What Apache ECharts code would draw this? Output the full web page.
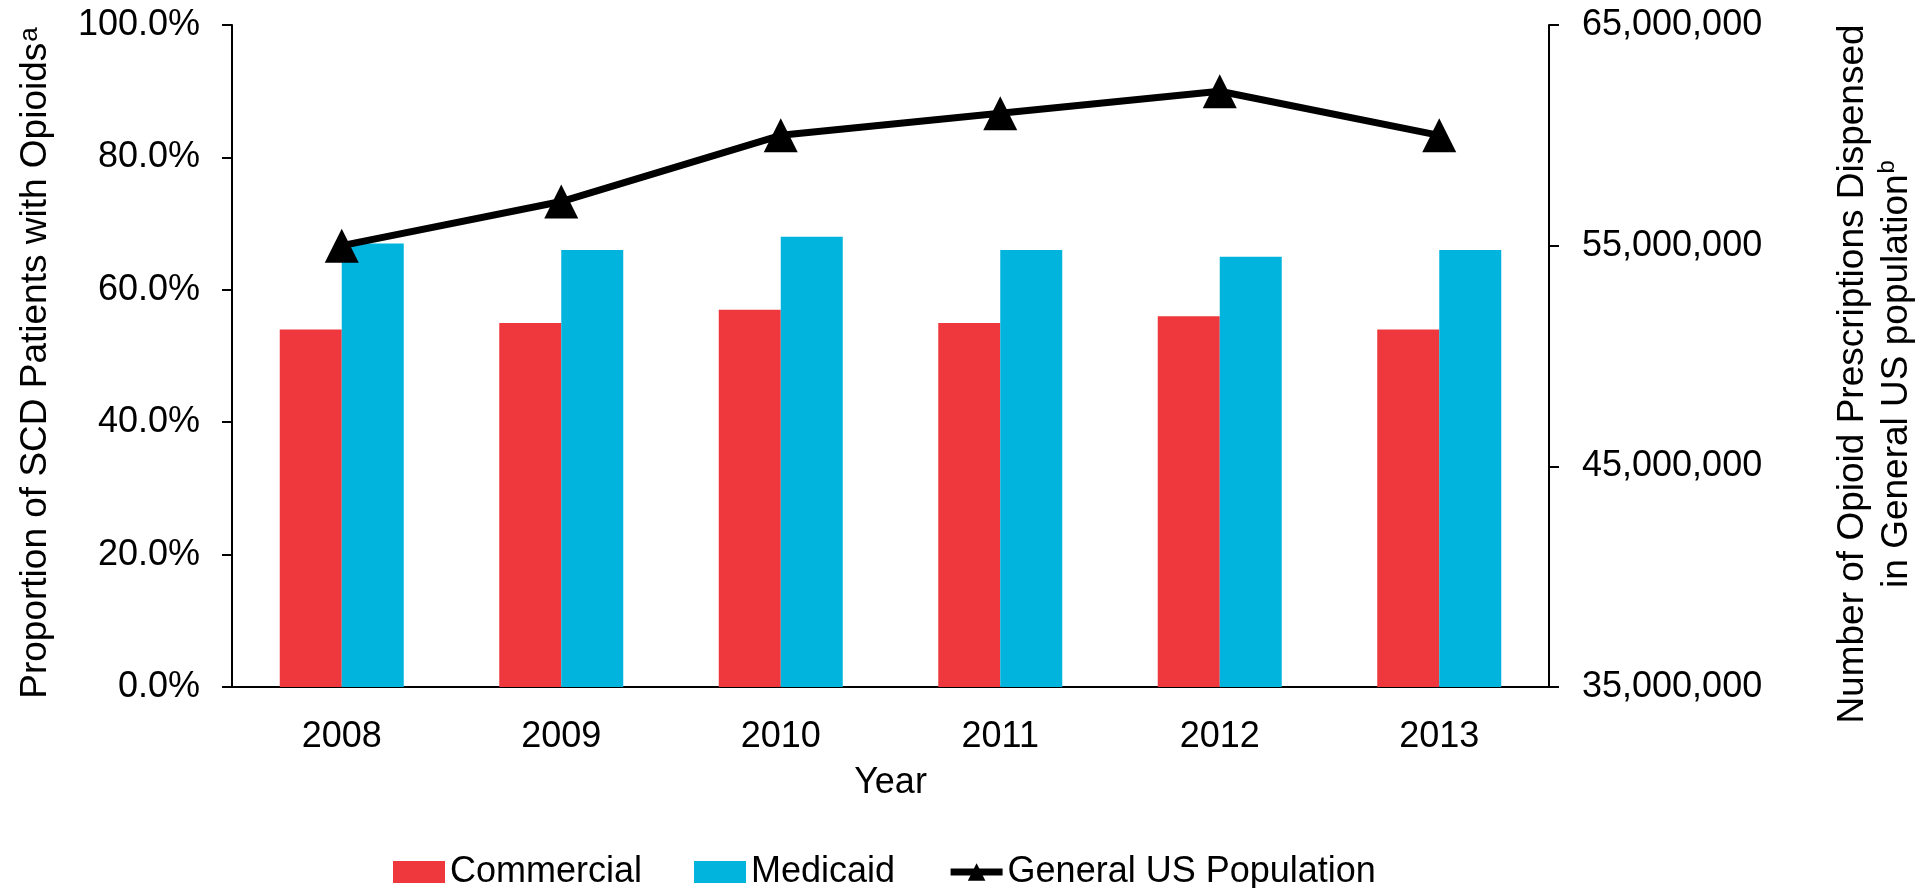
<!DOCTYPE html>
<html>
<head>
<meta charset="utf-8">
<title>Opioid use in SCD patients vs. general US population</title>
<script src="https://cdn.jsdelivr.net/npm/echarts@6/dist/echarts.min.js"></script>
<style>
  html, body { margin: 0; padding: 0; background: #ffffff; }
  #chart { width: 1923px; height: 888px; }
</style>
</head>
<body>
<div id="chart"></div>
<script>
// Years on the category axis
const years = ['2008', '2009', '2010', '2011', '2012', '2013'];
// Share of SCD patients with opioids (%), by payer
const commercial = [54, 55, 57, 55, 56, 54];
const medicaid = [67, 66, 68, 66, 65, 66];
// Opioid prescriptions dispensed in the general US population
const generalUS = [55000000, 57000000, 60000000, 61000000, 62000000, 60000000];
// Right-axis tick values
const rightTicks = [35000000, 45000000, 55000000, 65000000];

const FONT = "'Liberation Sans', Arial, Helvetica, sans-serif";
const RED = '#EE383E';
const BLUE = '#00B4DE';

const chart = echarts.init(document.getElementById('chart'), null, { renderer: 'canvas' });

const axisLine = { show: true, lineStyle: { color: '#000', width: 2 } };
const outTick = { show: true, inside: false, length: 10, lineStyle: { color: '#000', width: 2 } };

chart.setOption({
  animation: false,
  backgroundColor: '#ffffff',
  textStyle: { fontFamily: FONT, color: '#000' },
  grid: { left: 232, right: 374, top: 25, bottom: 201, containLabel: false, outerBoundsMode: 'none' },
  legend: {
    left: 388,
    top: 849,
    itemWidth: 52,
    itemHeight: 22,
    itemGap: 52,
    textStyle: { fontFamily: FONT, fontSize: 36, color: '#000' },
    data: [
      { name: 'Commercial', icon: 'rect' },
      { name: 'Medicaid', icon: 'rect' },
      { name: 'General US Population', lineStyle: { width: 7, color: '#000' } }
    ]
  },
  xAxis: {
    type: 'category',
    data: years,
    name: 'Year',
    nameLocation: 'middle',
    nameGap: 78,
    nameTextStyle: { fontFamily: FONT, fontSize: 36, color: '#000' },
    axisLine: axisLine,
    axisTick: { show: false },
    axisLabel: { margin: 32, fontFamily: FONT, fontSize: 36, color: '#000' },
    splitLine: { show: false }
  },
  yAxis: [
    {
      type: 'value',
      min: 0,
      max: 100,
      interval: 20,
      position: 'left',
      name: 'Proportion of SCD Patients with Opioids{sup|a}',
      nameLocation: 'middle',
      nameRotate: 90,
      nameGap: 178,
      nameTextStyle: {
        fontFamily: FONT, fontSize: 37, color: '#000', padding: [0, 14, 0, 0],
        rich: { sup: { fontFamily: FONT, fontSize: 26, color: '#000', verticalAlign: 'top', padding: [0, 0, 6, 1] } }
      },
      axisLine: axisLine,
      axisTick: outTick,
      axisLabel: {
        margin: 32, fontFamily: FONT, fontSize: 36, color: '#000',
        formatter: v => v.toFixed(1) + '%'
      },
      splitLine: { show: false }
    },
    {
      type: 'value',
      min: 35000000,
      max: 65000000,
      interval: 5000000,
      position: 'right',
      name: 'Number of Opioid Prescriptions Dispensed\nin General US population{sup|b}',
      nameLocation: 'middle',
      nameRotate: 90,
      nameGap: 282,
      nameTextStyle: {
        fontFamily: FONT, fontSize: 37, color: '#000', lineHeight: 44, padding: [0, 36, 0, 0],
        rich: { sup: { fontFamily: FONT, fontSize: 24, color: '#000', verticalAlign: 'top', padding: [0, 0, 8, 1] } }
      },
      axisLine: axisLine,
      axisTick: Object.assign({}, outTick, { customValues: rightTicks }),
      axisLabel: {
        margin: 33, fontFamily: FONT, fontSize: 36, color: '#000',
        customValues: rightTicks,
        formatter: v => v.toLocaleString('en-US')
      },
      splitLine: { show: false }
    }
  ],
  series: [
    {
      name: 'Commercial',
      type: 'bar',
      data: commercial,
      barWidth: 62,
      barGap: '0%',
      itemStyle: { color: RED }
    },
    {
      name: 'Medicaid',
      type: 'bar',
      data: medicaid,
      barWidth: 62,
      barGap: '0%',
      itemStyle: { color: BLUE }
    },
    {
      name: 'General US Population',
      type: 'line',
      yAxisIndex: 1,
      data: generalUS,
      symbol: 'triangle',
      symbolSize: 34,
      z: 5,
      lineStyle: { color: '#000', width: 7 },
      itemStyle: { color: '#000' }
    }
  ]
});
</script>
</body>
</html>
